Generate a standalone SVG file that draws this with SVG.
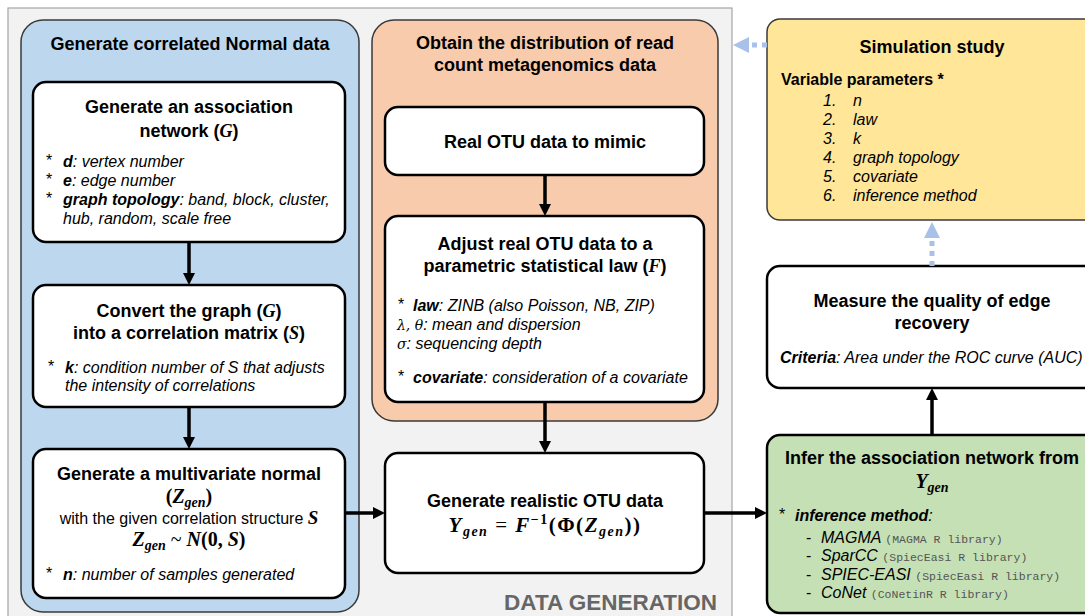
<svg xmlns="http://www.w3.org/2000/svg" width="1085" height="616" viewBox="0 0 1085 616">
<style>
text { font-family: "Liberation Sans", Arial, sans-serif; fill: #000; }
.t { font-size: 18px; font-weight: bold; text-anchor: middle; }
.it { font-size: 16px; font-style: italic; }
.rg { font-size: 16px; }
.b { font-weight: bold; }
.m { font-family: "Liberation Serif", "DejaVu Serif", serif; font-style: italic; font-weight: bold; }
.mn { font-family: "Liberation Serif", "DejaVu Serif", serif; font-style: normal; font-weight: bold; }
.mono { font-family: "Liberation Mono", "Courier New", monospace; font-size: 11.5px; font-style: normal; fill: #555; }
.box { fill: #fff; stroke: #000; stroke-width: 2.5; }
.edge { stroke: #000; stroke-width: 3.5; fill: none; marker-end: url(#ah); }
.dash { stroke: #a9c1e9; stroke-width: 5; stroke-dasharray: 5 5; fill: none; marker-end: url(#ahb); }
</style>
<defs>
<marker id="ah" viewBox="0 0 12 12" refX="0" refY="6" markerWidth="12" markerHeight="12" markerUnits="userSpaceOnUse" orient="auto">
<path d="M0,0 L12,6 L0,12 z" fill="#000"/>
</marker>
<marker id="ahb" viewBox="0 0 16 16" refX="0" refY="8" markerWidth="16" markerHeight="16" markerUnits="userSpaceOnUse" orient="auto">
<path d="M0,0 L16,8 L0,16 z" fill="#a9c1e9"/>
</marker>
</defs>

<g id="data-generation">
<rect x="8" y="8" width="724" height="620" fill="#f2f2f2" stroke="#a6a6a6" stroke-width="1.2"/>
<text x="717" y="610" style="font-size:22.5px;font-weight:bold;fill:#666;text-anchor:end">DATA GENERATION</text>
</g>

<g id="panel-normal">
<rect x="21" y="20" width="338" height="592" rx="22" fill="#bdd7ee" stroke="#3a3a3a" stroke-width="1.5"/>
<text class="t" x="190" y="50">Generate correlated Normal data</text>
</g>

<g id="panel-distribution">
<rect x="372" y="20" width="346" height="401" rx="22" fill="#f8cbad" stroke="#3a3a3a" stroke-width="1.5"/>
<text class="t" x="545" y="49">Obtain the distribution of read</text>
<text class="t" x="545" y="71">count metagenomics data</text>
</g>

<g id="node-network">
<rect class="box" x="33" y="82" width="312" height="160" rx="13"/>
<text class="t" x="189" y="113">Generate an association</text>
<text class="t" x="189" y="137">network (<tspan class="m">G</tspan>)</text>
<text class="rg" x="46" y="166">*</text>
<text class="it" x="63" y="167"><tspan class="b">d</tspan>: vertex number</text>
<text class="rg" x="46" y="185">*</text>
<text class="it" x="63" y="186"><tspan class="b">e</tspan>: edge number</text>
<text class="rg" x="46" y="204">*</text>
<text class="it" x="63" y="205"><tspan class="b">graph topology</tspan>: band, block, cluster,</text>
<text class="it" x="63" y="224">hub, random, scale free</text>
</g>

<g id="node-correlation">
<rect class="box" x="33" y="285" width="312" height="122" rx="13"/>
<text class="t" x="189" y="317">Convert the graph (<tspan class="m">G</tspan>)</text>
<text class="t" x="189" y="339">into a correlation matrix (<tspan class="m">S</tspan>)</text>
<text class="rg" x="48" y="372">*</text>
<text class="it" x="65" y="373"><tspan class="b">k</tspan>: condition number of S that adjusts</text>
<text class="it" x="65" y="391">the intensity of correlations</text>
</g>

<g id="node-multivariate">
<rect class="box" x="33" y="449" width="312" height="149" rx="13"/>
<text class="t" x="189" y="480">Generate a multivariate normal</text>
<text x="189" y="503" style="font-size:20px;text-anchor:middle"><tspan class="mn">(</tspan><tspan class="m">Z</tspan><tspan class="m" style="font-size:14px" dy="4">gen</tspan><tspan class="mn" dy="-4">)</tspan></text>
<text class="rg" x="189" y="524" style="text-anchor:middle">with the given correlation structure <tspan class="m" style="font-size:19px">S</tspan></text>
<text x="189" y="546" style="font-size:20px;text-anchor:middle"><tspan class="m">Z</tspan><tspan class="m" style="font-size:14px" dy="4">gen</tspan><tspan class="mn" dy="-4" style="font-weight:normal"> ~ </tspan><tspan class="m">N</tspan><tspan class="mn">(0, </tspan><tspan class="m">S</tspan><tspan class="mn">)</tspan></text>
<text class="rg" x="46" y="579">*</text>
<text class="it" x="63" y="580"><tspan class="b">n</tspan>: number of samples generated</text>
</g>

<g id="node-real-otu">
<rect class="box" x="385" y="107" width="319" height="68" rx="13"/>
<text class="t" x="545" y="148">Real OTU data to mimic</text>
</g>

<g id="node-adjust">
<rect class="box" x="385" y="216" width="319" height="186" rx="13"/>
<text class="t" x="545" y="250">Adjust real OTU data to a</text>
<text class="t" x="545" y="272">parametric statistical law (<tspan class="m">F</tspan>)</text>
<text class="rg" x="398" y="310">*</text>
<text class="it" x="413" y="311"><tspan class="b">law</tspan>: ZINB (also Poisson, NB, ZIP)</text>
<text class="it" x="397" y="330"><tspan style="font-family:'DejaVu Serif',serif;font-size:14px">λ, θ</tspan>: mean and dispersion</text>
<text class="it" x="397" y="349"><tspan style="font-family:'DejaVu Serif',serif;font-size:14px">σ</tspan>: sequencing depth</text>
<text class="rg" x="398" y="382">*</text>
<text class="it" x="413" y="383"><tspan class="b">covariate</tspan>: consideration of a covariate</text>
</g>

<g id="node-realistic">
<rect class="box" x="385" y="453" width="319" height="120" rx="13"/>
<text class="t" x="545" y="507">Generate realistic OTU data</text>
<text x="545" y="532" style="font-size:21px;text-anchor:middle;letter-spacing:1.5px"><tspan class="m">Y</tspan><tspan class="m" style="font-size:14px" dy="4">gen</tspan><tspan class="mn" dy="-4" style="font-weight:normal"> = </tspan><tspan class="m">F</tspan><tspan class="mn" style="font-size:14px" dy="-8">−1</tspan><tspan class="mn" dy="8">(Φ(</tspan><tspan class="m">Z</tspan><tspan class="m" style="font-size:14px" dy="4">gen</tspan><tspan class="mn" dy="-4">))</tspan></text>
</g>

<g id="node-simulation">
<rect x="767" y="19" width="330" height="201" rx="13" fill="#ffe699" stroke="#3a3a3a" stroke-width="1.5"/>
<text class="t" x="932" y="53">Simulation study</text>
<text x="781" y="85" style="font-size:16px;font-weight:bold">Variable parameters *</text>
<text class="it" x="823" y="106">1.</text><text class="it" x="853" y="106">n</text>
<text class="it" x="823" y="125">2.</text><text class="it" x="853" y="125">law</text>
<text class="it" x="823" y="144">3.</text><text class="it" x="853" y="144">k</text>
<text class="it" x="823" y="163">4.</text><text class="it" x="853" y="163">graph topology</text>
<text class="it" x="823" y="182">5.</text><text class="it" x="853" y="182">covariate</text>
<text class="it" x="823" y="201">6.</text><text class="it" x="853" y="201">inference method</text>
</g>

<g id="node-measure">
<rect class="box" x="767" y="266" width="330" height="122" rx="13"/>
<text class="t" x="932" y="307">Measure the quality of edge</text>
<text class="t" x="932" y="329">recovery</text>
<text class="it" x="780" y="363"><tspan class="b">Criteria</tspan>: Area under the ROC curve (AUC)</text>
</g>

<g id="node-infer">
<rect x="767" y="435" width="330" height="178" rx="13" fill="#c5e0b4" stroke="#000" stroke-width="2.5"/>
<text class="t" x="932" y="464">Infer the association network from</text>
<text x="932" y="488" style="font-size:20px;text-anchor:middle"><tspan class="m">Y</tspan><tspan class="m" style="font-size:14px" dy="4">gen</tspan></text>
<text class="rg" x="779" y="520">*</text>
<text class="it" x="795" y="521"><tspan class="b">inference method</tspan>:</text>
<text class="rg" x="806" y="543">-</text>
<text class="it" x="821" y="543">MAGMA <tspan class="mono">(MAGMA R library)</tspan></text>
<text class="rg" x="806" y="561">-</text>
<text class="it" x="821" y="561">SparCC <tspan class="mono">(SpiecEasi R library)</tspan></text>
<text class="rg" x="806" y="580">-</text>
<text class="it" x="821" y="580">SPIEC-EASI <tspan class="mono">(SpiecEasi R library)</tspan></text>
<text class="rg" x="806" y="598">-</text>
<text class="it" x="821" y="598">CoNet <tspan class="mono">(CoNetinR R library)</tspan></text>
</g>

<g id="connectors">
<line class="edge" x1="189" y1="242" x2="189" y2="273"/>
<line class="edge" x1="189" y1="407" x2="189" y2="437"/>
<line class="edge" x1="545" y1="175" x2="545" y2="204"/>
<line class="edge" x1="545" y1="402" x2="545" y2="441"/>
<line class="edge" x1="345" y1="513" x2="373" y2="513"/>
<line class="edge" x1="704" y1="513" x2="755" y2="513"/>
<line class="edge" x1="932" y1="435" x2="932" y2="400"/>
<line class="dash" x1="767" y1="45" x2="749" y2="45"/>
<line class="dash" x1="932" y1="266" x2="932" y2="238"/>
</g>
</svg>
